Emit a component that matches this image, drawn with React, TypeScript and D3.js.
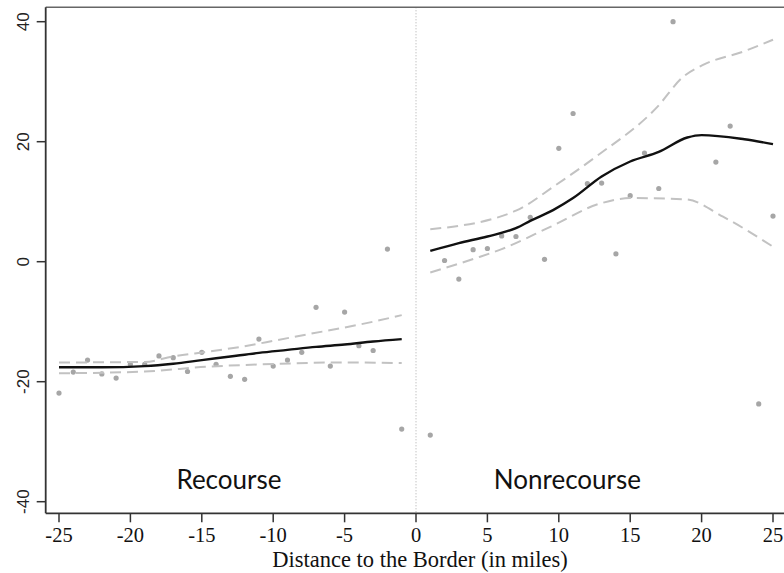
import React from "react";
import * as d3 from "d3";

// observed bins (x = miles to border, y = outcome)
const leftX = [-25, -24, -23, -22, -21, -20, -19, -18, -17, -16, -15, -14, -13, -12, -11, -10, -9, -8, -7, -6, -5, -4, -3, -2, -1];
const leftY = [-21.9, -18.4, -16.4, -18.7, -19.4, -17.1, -17.1, -15.7, -16.0, -18.3, -15.1, -17.1, -19.1, -19.6, -12.9, -17.4, -16.4, -15.1, -7.6, -17.4, -8.4, -14.0, -14.8, 2.1, -27.9];
const rightX = [1, 2, 3, 4, 5, 6, 7, 8, 9, 10, 11, 12, 13, 14, 15, 16, 17, 18, 21, 22, 24, 25];
const rightY = [-28.9, 0.2, -2.9, 2.0, 2.2, 4.3, 4.2, 7.4, 0.4, 18.9, 24.7, 13.0, 13.1, 1.3, 11.0, 18.1, 12.2, 40.0, 16.6, 22.6, -23.7, 7.6];

// local fit and confidence band, recourse side
const fitLX = [-25, -22, -19, -17, -15, -13, -11, -9, -7, -5, -3, -1];
const fitLY = [-17.6, -17.6, -17.4, -17.0, -16.4, -15.8, -15.2, -14.7, -14.2, -13.8, -13.3, -12.9];
const ciLoLX = [-25, -19, -14.6, -10, -5.3, -1];
const ciLoLY = [-18.6, -18.3, -17.5, -17.05, -16.8, -16.9];
const ciHiLX = [-25, -19, -17, -14.6, -12.3, -10, -7.6, -5.3, -3, -1];
const ciHiLY = [-16.8, -16.7, -15.8, -15.0, -14.2, -13.2, -12.1, -11.1, -10.0, -8.9];

// nonrecourse side
const fitRX = [1, 3, 5, 7, 8, 9.6, 11, 13, 15, 17, 19, 20, 23, 25];
const fitRY = [1.8, 3.1, 4.2, 5.6, 6.8, 8.6, 10.6, 14.2, 16.7, 18.3, 20.7, 21.1, 20.4, 19.6];
const ciLoRX = [1, 4.2, 6, 9.4, 12.9, 15, 18.9, 21.5, 25];
const ciLoRY = [-1.8, 0.6, 2.1, 5.8, 9.7, 10.6, 10.4, 7.5, 2.5];
const ciHiRX = [1, 7, 9.8, 12.6, 16.9, 18.7, 20.1, 22.9, 25];
const ciHiRY = [5.4, 8.5, 12.8, 17.5, 25.8, 30.8, 32.8, 35.0, 37.0];

const xTicks = [-25, -20, -15, -10, -5, 0, 5, 10, 15, 20, 25];
const yTicks = [-40, -20, 0, 20, 40];
const groupLabels = ["Recourse", "Nonrecourse"];
const groupPos = [-13.1, 10.6];
const xTitle = "Distance to the Border (in miles)";

const W = 784;
const H = 573;
const left = 45.7;
const top = 7.3;
const bottom = 513.3;

export default function App() {
  const x = d3.scaleLinear().domain([-25, 25]).range([59, 773]);
  const y = d3.scaleLinear().domain([-40, 40]).range([501.7, 21.7]);

  const line = (xs: number[], ys: number[]) =>
    d3
      .line<number>()
      .x((_, i) => x(xs[i]))
      .y((v) => y(v))
      .curve(d3.curveMonotoneX)(ys) || "";

  const dashed = { fill: "none", stroke: "#c2c2c2", strokeWidth: 2, strokeDasharray: "11,6" };
  const solid = { fill: "none", stroke: "#111", strokeWidth: 2.4 };
  const serif = "'Liberation Serif', 'DejaVu Serif', serif";

  return (
    <svg width={W} height={H} style={{ position: "absolute", left: 0, top: 0, background: "#fff" }}>
      <rect width={W} height={H} fill="#fff" />

      {/* cutoff */}
      <line x1={x(0)} x2={x(0)} y1={top} y2={bottom} stroke="#aaa" strokeWidth={1} strokeDasharray="1,2" />

      {/* points */}
      <g fill="#a6a6a6">
        {leftX.map((d, i) => (
          <circle key={"l" + i} cx={x(d)} cy={y(leftY[i])} r={2.6} />
        ))}
        {rightX.map((d, i) => (
          <circle key={"r" + i} cx={x(d)} cy={y(rightY[i])} r={2.6} />
        ))}
      </g>

      {/* bands */}
      <path d={line(ciLoLX, ciLoLY)} {...dashed} />
      <path d={line(ciHiLX, ciHiLY)} {...dashed} />
      <path d={line(ciLoRX, ciLoRY)} {...dashed} />
      <path d={line(ciHiRX, ciHiRY)} {...dashed} />
      <path d={line(fitLX, fitLY)} {...solid} />
      <path d={line(fitRX, fitRY)} {...solid} />

      {/* frame */}
      <line x1={left} x2={W} y1={top} y2={top} stroke="#666" strokeWidth={1.6} />
      <line x1={left} x2={left} y1={top} y2={bottom} stroke="#333" strokeWidth={1.8} />
      <line x1={left} x2={W} y1={bottom} y2={bottom} stroke="#333" strokeWidth={1.8} />

      {/* y axis */}
      {yTicks.map((t) => (
        <g key={t}>
          <line x1={left - 9} x2={left} y1={y(t)} y2={y(t)} stroke="#333" strokeWidth={1.5} />
          <text
            transform={`translate(28.5,${y(t)}) rotate(-90)`}
            textAnchor="middle"
            fontFamily="'Liberation Sans', Arial, sans-serif"
            fontSize={17}
            fill="#222"
          >
            {t}
          </text>
        </g>
      ))}

      {/* x axis */}
      {xTicks.map((t) => (
        <g key={t}>
          <line x1={x(t)} x2={x(t)} y1={bottom} y2={bottom + 9} stroke="#333" strokeWidth={1.5} />
          <text x={x(t)} y={542} textAnchor="middle" fontFamily={serif} fontSize={20.5} fill="#111">
            {t}
          </text>
        </g>
      ))}
      <text x={x(0) + 4} y={566.5} textAnchor="middle" fontFamily={serif} fontSize={22.5} fill="#111">
        {xTitle}
      </text>

      {groupLabels.map((g, i) => (
        <text
          key={g}
          x={x(groupPos[i])}
          y={489}
          textAnchor="middle"
          fontFamily="Lato, 'Open Sans', sans-serif"
          fontSize={26}
          fill="#111"
        >
          {g}
        </text>
      ))}
    </svg>
  );
}
